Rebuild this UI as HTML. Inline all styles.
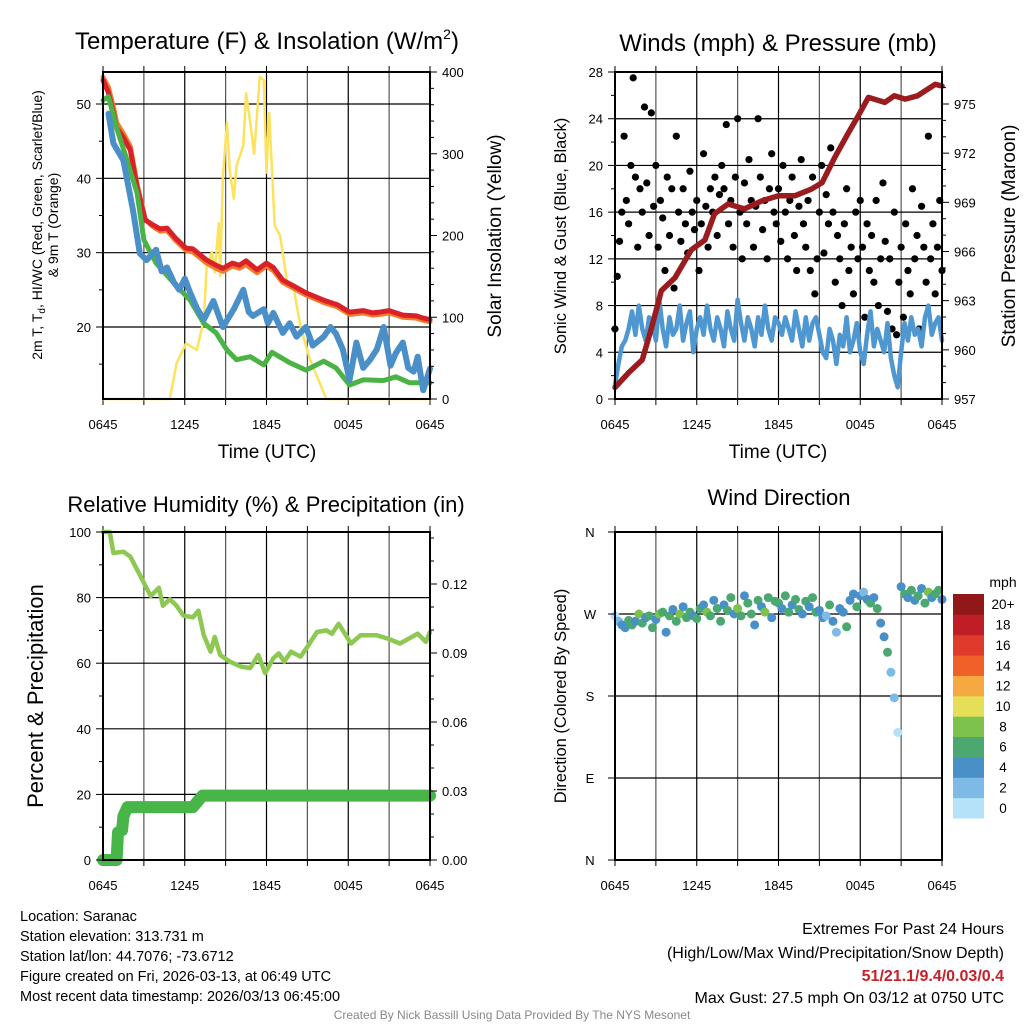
<!DOCTYPE html>
<html><head><meta charset="utf-8"><title>Saranac Meteogram</title>
<style>
html,body{margin:0;padding:0;background:#fff;}
svg{display:block;font-family:"Liberation Sans",Arial,sans-serif;}
</style></head>
<body>
<svg id="chart" width="1024" height="1024" viewBox="0 0 1024 1024" xmlns="http://www.w3.org/2000/svg">
<rect x="0" y="0" width="1024" height="1024" fill="#fff"/>
<g id="layer"></g>
<text x="267" y="49" font-size="24" text-anchor="middle">Temperature (F) &amp; Insolation (W/m<tspan font-size="14" dy="-10">2</tspan><tspan dy="10">)</tspan></text>
<text x="778" y="51" font-size="24" text-anchor="middle">Winds (mph) &amp; Pressure (mb)</text>
<text x="266" y="512" font-size="22" text-anchor="middle">Relative Humidity (%) &amp; Precipitation (in)</text>
<text x="779" y="505" font-size="22" text-anchor="middle">Wind Direction</text>
<text x="267" y="458" font-size="19" text-anchor="middle">Time (UTC)</text>
<text x="778" y="458" font-size="19" text-anchor="middle">Time (UTC)</text>
<text transform="translate(42,225) rotate(-90)" font-size="14" text-anchor="middle">2m T, T<tspan font-size="10" dy="3">d</tspan><tspan dy="-3">, HI/WC (Red, Green, Scarlet/Blue)</tspan></text>
<text transform="translate(58,225) rotate(-90)" font-size="14" text-anchor="middle">&amp; 9m T (Orange)</text>
<text transform="translate(501,236) rotate(-90)" font-size="19" text-anchor="middle">Solar Insolation (Yellow)</text>
<text transform="translate(566,236) rotate(-90)" font-size="16.5" text-anchor="middle">Sonic Wind &amp; Gust (Blue, Black)</text>
<text transform="translate(1015,236) rotate(-90)" font-size="19" text-anchor="middle">Station Pressure (Maroon)</text>
<text transform="translate(43,696) rotate(-90)" font-size="22" text-anchor="middle">Percent &amp; Precipitation</text>
<text transform="translate(566,696) rotate(-90)" font-size="16.5" text-anchor="middle">Direction (Colored By Speed)</text>
<text x="1003" y="587" font-size="14" text-anchor="middle">mph</text>
<g font-size="14.5">
<text x="20" y="921">Location: Saranac</text>
<text x="20" y="941">Station elevation: 313.731 m</text>
<text x="20" y="961">Station lat/lon: 44.7076; -73.6712</text>
<text x="20" y="981">Figure created on Fri, 2026-03-13, at 06:49 UTC</text>
<text x="20" y="1001">Most recent data timestamp: 2026/03/13 06:45:00</text>
</g>
<g font-size="16" text-anchor="end">
<text x="1004" y="934">Extremes For Past 24 Hours</text>
<text x="1004" y="958">(High/Low/Max Wind/Precipitation/Snow Depth)</text>
<text x="1004" y="981" fill="#c8202a" font-weight="bold">51/21.1/9.4/0.03/0.4</text>
<text x="1004" y="1003">Max Gust: 27.5 mph On 03/12 at 0750 UTC</text>
</g>
<text x="512" y="1019" font-size="12" fill="#888" text-anchor="middle">Created By Nick Bassill Using Data Provided By The NYS Mesonet</text>
</svg>
<script>
// ---------- data ----------
const timeTickLabels = ["0645","1245","1845","0045","0645"];
const tempH = [0,0.4,0.8,1.0,1.5,2.0,2.5,3.1,3.6,4.2,4.7,5.3,6.1,6.6,7.6,8.3,8.8,9.5,10.0,10.5,11.3,12,12.5,13.2,14.0,14.9,16.2,17.2,18.1,19.1,19.8,20.3,21,22,23,23.5,24];
const tempV = [53.2,51.5,48.5,46.8,45.5,43.8,38.8,34.4,33.8,33.2,33.3,32.0,30.6,30.5,29.0,28.3,27.9,28.6,28.3,28.9,27.7,28.6,28.0,26.3,25.5,24.6,23.6,23.0,22.0,22.2,21.9,22.0,22.2,21.6,21.5,21.2,21.0];
const temp9V = [53.6,52.2,49.3,47.5,46.0,44.3,39.2,34.5,33.6,32.9,33.0,31.7,30.3,30.1,28.6,27.9,27.5,28.2,27.9,28.4,27.3,28.2,27.6,26.0,25.2,24.3,23.3,22.7,21.7,21.9,21.6,21.7,21.9,21.3,21.2,20.9,20.7];
const dewH = [0,0.4,1.0,1.7,2.5,3.0,3.9,5.2,6.4,7.4,8.3,9.1,9.8,10.8,11.8,12.4,13.7,14.9,16.2,17.1,18.1,19.1,20.6,21.5,22.5,24];
const dewV = [50.5,51,46.8,42.8,38,31.7,28.6,25.9,23.6,20.5,19.2,16.9,15.6,16.0,14.9,16.6,15.2,14.2,15.4,14.5,12.2,12.9,12.8,13.3,12.5,12.5];
const wcH = [0.4,0.76,1.5,2.2,2.7,3.2,3.9,4.3,4.7,5.2,5.6,6.0,6.4,6.9,7.4,8.1,8.8,9.6,10.3,10.7,11.0,11.8,12.1,12.5,13.2,13.7,14.2,14.9,15.4,16.2,16.7,17.1,17.6,18.1,18.6,19.1,19.6,20.1,20.6,21.1,21.5,22,22.4,22.8,23.1,23.5,24];
const wcV = [48.7,44.7,42.4,35.7,29.9,29,30.4,27.5,28,26,25,26.5,24.6,22.5,21,23.5,20,22.4,25,22,21.5,22.4,20.5,21.9,19.2,20.5,18.7,20,17.5,18.7,20,19.1,17,12.9,17.9,14.5,15.6,17,20,14.8,16.5,17.9,14.5,14,16,11.5,14.4];
const solarH = [0,4.9,5.4,6.1,6.9,7.4,7.6,8.0,8.2,8.5,8.6,8.8,9.1,9.3,9.6,9.8,10.3,10.5,10.8,11.1,11.5,11.8,12.0,12.2,12.6,13.0,13.5,14.0,14.5,15.2,15.9,16.4,24];
const solarV = [0,0,44,68,60,97,161,180,155,215,150,272,338,280,245,285,310,374,338,300,394,390,277,350,212,200,145,135,88,48,20,0,0];
const tempTicks = [20,30,40,50];
const solarTicks = [0,100,200,300,400];

const windSpeed = [1.2,3,4.5,5,6,7.5,5.5,8,6,5,7,6.5,
 5,8.5,6,4.5,7,5.5,6,8,5,6.5,7.5,4,
 6,7,5.5,8,6,5,7,6,4.5,7.5,6,5,
 8.5,6.5,5,7,6,4.5,7,5.5,8,6,5,7,
 6.5,5.5,7,6,5,7.5,6,4.5,7,5,6.5,7,
 5.5,4,3.5,6,5,3,5.5,4.5,7,4,5,6.5,
 4,3,5.5,7.5,4.5,6,5,4,6.5,3.5,2,1,
 4,6.5,5,7,5.5,6,4.5,7,8,5.5,6.5,7,5];
const gust = [6,10.5,13.5,16,22.5,17,15,20,27.5,19,13,18,
 16,25,18.5,14,24.5,16.5,20,13,17,15.5,11,19,
 14,18,9.5,22.5,16,13.5,18,15,12.5,19.5,16,14.5,
 17,11,15,21,16.5,13,18,16,19,14,17.5,20,
 18,23.5,15,17,13,19,24,16,12,18.5,15,20.5,
 17,13,16.5,24,19,14.5,17,12,18,21,16,15,
 18,13.5,20,16,12,17,19,14,11,16.5,20.5,15,
 13,17,11,19,9,12,16,20,12.5,17.5,15,21.5,
 16,10,14,12,8,15,18,11,13,9,16,12,
 17,13,7,15,11,14,10,17,8,12,18.5,13.5,
 7.5,12,6,16,5.5,10,13,7,15,11,9,18,
 12,14,6,16.5,13,10,22.5,12,15,9,13,17,11];
const presH = [0,1,2,2.7,3.4,4.4,5.6,6.6,7.3,8.3,9.5,10.8,12,13.2,14.4,15.2,16.1,17.1,17.8,18.6,19.8,20.5,21.3,22.2,23.5,24];
const presV = [957.7,958.6,959.4,961.4,963.6,964.4,966.1,966.7,968.3,968.9,968.6,969.1,969.4,969.4,969.8,970.2,971.7,973.2,974.2,975.4,975.1,975.5,975.3,975.5,976.2,976.1];
const windTicks = [0,4,8,12,16,20,24,28];
const presTicks = [957,960,963,966,969,972,975];

const rhH = [0,0.5,0.76,1.5,2.0,2.5,3.0,3.5,4.1,4.4,4.9,5.4,5.9,6.6,7.0,7.4,7.9,8.2,8.6,9.3,10.1,10.8,11.4,11.9,12.5,12.9,13.3,13.8,14.5,15.0,15.7,16.4,16.8,17.3,18.2,18.9,20.1,20.9,21.8,23.1,23.7,24];
const rhV = [100,100,93.6,94,92.5,88.5,84.5,80.5,83,77.5,79.5,77.5,74.5,74,76,68.5,63.5,68,62.5,60.5,59,58.5,62.5,57,61.5,63,60.5,63.5,62,65,69.5,70,69,72,66,68.5,68.5,67.5,66,69,66.5,69.5];
const precipH = [0,1.0,1.1,1.4,1.5,1.8,6.6,7.3,24];
const precipV = [0,0,0.012,0.013,0.019,0.023,0.023,0.028,0.028];
const rhTicks = [0,20,40,60,80,100];
const precipTicks = ["0.00","0.03","0.06","0.09","0.12"];

const windDir = [268,262,258,255,263,258,262,270,260,266,268,255,
 264,270,272,250,268,275,262,270,278,266,272,268,
 265,276,280,272,268,285,276,262,280,274,288,270,
 276,268,290,282,270,258,285,278,272,288,266,284,
 282,276,290,272,280,286,275,270,284,278,288,272,
 274,266,268,280,262,250,276,272,256,285,292,278,
 290,294,286,282,288,276,260,245,228,206,178,140,
 300,292,288,296,285,290,298,282,294,288,292,296,286];
const dirTickLabels = ["N","E","S","W","N"];
const speedBinLabels = ["0","2","4","6","8","10","12","14","16","18","20+"];
const speedBinColors = ["#b5e2f8","#7dbbe6","#4990c8","#4aa870","#7dc24c","#e5df58","#f7a941","#ef6129","#df3a2b","#bf1e26","#911719"];

// ---------- helpers ----------
const NS = "http://www.w3.org/2000/svg";
const layer = document.getElementById('layer');
function mk(tag, attrs, parent){
  const e = document.createElementNS(NS, tag);
  for (const k in attrs) e.setAttribute(k, attrs[k]);
  (parent||layer).appendChild(e);
  return e;
}
function lin(d0,d1,r0,r1){ return v => r0 + (v-d0)/(d1-d0)*(r1-r0); }

const P = {
  tl:{x0:103,x1:430,y0:72,y1:399},
  tr:{x0:615,x1:942,y0:72,y1:399},
  bl:{x0:103,x1:430,y0:532,y1:860},
  br:{x0:615,x1:942,y0:532,y1:860}
};

function frame(p, name, hGridVals, yS){
  const g = mk('g', {});
  
  
  const xS = lin(0,24,p.x0,p.x1);
  for (let h=3; h<24; h+=3){
    const l = mk('line',{x1:xS(h),x2:xS(h),y1:p.y0,y2:p.y1,stroke:(h%6==0?'#000':'#555'),'stroke-width':1.2},g);
    
    
  }
  hGridVals.forEach(v=>{
    const l = mk('line',{x1:p.x0,x2:p.x1,y1:yS(v),y2:yS(v),stroke:'#000','stroke-width':1.2},g);
    
    
  });
  for (let h=0; h<=24; h+=3){
    const t = mk('line',{x1:xS(h),x2:xS(h),y1:p.y1,y2:p.y1+6,stroke:'#000','stroke-width':1},g);
    
    
    const t2 = mk('line',{x1:xS(h),x2:xS(h),y1:p.y0,y2:p.y0-6,stroke:'#000','stroke-width':1},g);
    
    
  }
  timeTickLabels.forEach((s,i)=>{
    const t = mk('text',{x:xS(i*6),y:p.y1+30,'font-size':13,'text-anchor':'middle'},g);
    t.textContent = s;
    
    
  });
  return xS;
}
function border(p){
  const r = mk('rect',{x:p.x0,y:p.y0,width:p.x1-p.x0,height:p.y1-p.y0,fill:'none',stroke:'#000','stroke-width':2});
  
  
}
function line(xs, ys, xS, yS, color, w, name){
  const d = xs.map((h,i)=>(i?'L':'M')+xS(h).toFixed(1)+','+yS(ys[i]).toFixed(1)).join('');
  const e = mk('path',{d:d,fill:'none',stroke:color,'stroke-width':w,'stroke-linejoin':'round','stroke-linecap':'round'});
  
  
  return e;
}
function yTicks(p, side, vals, labels, yS, name, minorVals){
  const x = side==='left'?p.x0:p.x1;
  const dir = side==='left'?-1:1;
  vals.forEach((v,i)=>{
    const t = mk('line',{x1:x,x2:x+dir*7,y1:yS(v),y2:yS(v),stroke:'#000','stroke-width':1});
    
    
    const tx = mk('text',{x:x+dir*12,y:yS(v)+5,'font-size':13,'text-anchor':side==='left'?'end':'start'});
    tx.textContent = labels[i];
    
    
  });
  (minorVals||[]).forEach(v=>{
    const t = mk('line',{x1:x,x2:x+dir*4,y1:yS(v),y2:yS(v),stroke:'#000','stroke-width':1});
    
    
  });
}
function range(a,b,s){const r=[];for(let v=a;v<=b+1e-9;v+=s)r.push(+v.toFixed(4));return r;}

// ---------- panel 1: temperature ----------
(function(){
  const p=P.tl;
  const yT = lin(20,50,327,104);
  const yS = lin(0,400,p.y1,p.y0);
  const xS = frame(p,'temp-panel',tempTicks,yT);
  line(solarH,solarV,xS,yS,'#fde25c',2.5,'solar-insolation-line');
  line(tempH,temp9V,xS,yT,'#f47b2a',5,'temp-9m-line');
  line(tempH,tempV,xS,yT,'#d92128',5,'temp-2m-line');
  line(dewH,dewV,xS,yT,'#4bb346',5,'dewpoint-line');
  line(wcH,wcV,xS,yT,'#4a8fc8',6,'windchill-line');
  border(p);
  yTicks(p,'left',tempTicks,tempTicks.map(String),yT,'temp-y',[15,25,35,45]);
  yTicks(p,'right',solarTicks,solarTicks.map(String),yS,'solar-y',range(20,380,20).filter(v=>v%100));
})();

// ---------- panel 2: winds ----------
(function(){
  const p=P.tr;
  const yW = lin(0,28,p.y1,p.y0);
  const yP = lin(957,975,p.y1,104);
  const xS = frame(p,'wind-panel',windTicks,yW);
  const nG = gust.length;
  const g = mk('g',{});
  
  
  gust.forEach((v,i)=>{
    const c = mk('circle',{cx:xS(i*24/(nG-1)),cy:yW(v),r:3.6,fill:'#000'},g);
    
    
  });
  const nW = windSpeed.length;
  line(windSpeed.map((v,i)=>i*24/(nW-1)),windSpeed,xS,yW,'#4f97d0',4.5,'sonic-wind-line');
  line(presH,presV,xS,yP,'#9b1c1f',5.5,'pressure-line');
  border(p);
  yTicks(p,'left',windTicks,windTicks.map(String),yW,'wind-y',range(2,26,4));
  yTicks(p,'right',presTicks,presTicks.map(String),yP,'pressure-y',range(958,976,1).filter(v=>(v-957)%3));
})();

// ---------- panel 3: RH & precip ----------
(function(){
  const p=P.bl;
  const yR = lin(0,100,p.y1,p.y0);
  const yPr = lin(0,0.03,p.y1,791);
  const xS = frame(p,'rh-panel',rhTicks.slice(1),yR);
  line(precipH,precipV,xS,yPr,'#47b548',12,'precipitation-line');
  line(rhH,rhV,xS,yR,'#8dc852',4.5,'relative-humidity-line');
  border(p);
  yTicks(p,'left',rhTicks,rhTicks.map(String),yR,'rh-y',range(10,90,20));
  yTicks(p,'right',precipTicks.map(Number),precipTicks,yPr,'precip-y',range(0.01,0.14,0.01).filter(v=>Math.round(v*100)%3));
})();

// ---------- panel 4: wind direction ----------
(function(){
  const p=P.br;
  const yD = lin(0,360,p.y1,p.y0);
  const xS = frame(p,'direction-panel',[90,180,270,360],yD);
  const n = windDir.length;
  const g = mk('g',{});
  
  
  windDir.forEach((d,i)=>{
    const b = Math.min(10,Math.floor(windSpeed[i]/2));
    const c = mk('circle',{cx:xS(i*24/(n-1)),cy:yD(d),r:4.5,fill:speedBinColors[b]},g);
    
    
  });
  border(p);
  dirTickLabels.forEach((s,i)=>{
    const v=i*90;
    const t = mk('line',{x1:p.x0,x2:p.x0-7,y1:yD(v),y2:yD(v),stroke:'#000','stroke-width':1});
    
    
    const tx = mk('text',{x:p.x0-25,y:yD(v)+5,'font-size':13,'text-anchor':'middle'});
    tx.textContent = s;
    
    
  });
  const cb = mk('g',{});
  
  
  const top=594, h=224/11;
  speedBinColors.forEach((c,i)=>{
    const k = 10-i;
    const r = mk('rect',{x:953,y:top+k*h,width:31,height:h+0.5,fill:c},cb);
    
    
    const t = mk('text',{x:1003,y:top+k*h+h/2+5,'font-size':13.5,'text-anchor':'middle'},cb);
    t.textContent = speedBinLabels[i];
    
    
  });
})();
</script>
</body></html>
